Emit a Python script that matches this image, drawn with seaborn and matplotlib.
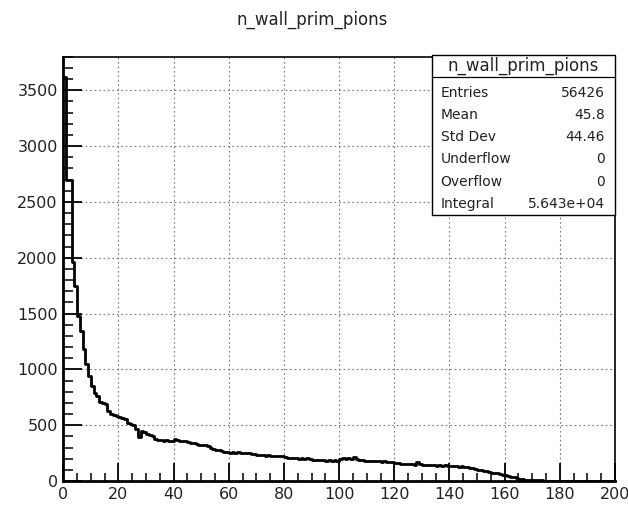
#!/usr/bin/env python
# coding: utf-8

import numpy as np
import pandas as pd
import matplotlib
matplotlib.use("Agg")
import matplotlib.pyplot as plt
import matplotlib.ticker as ticker
from matplotlib.patches import Rectangle
import seaborn as sns

# =============================================================================
# DATA — bin contents (200 bins of width 1, 0..200)
# =============================================================================
TITLE = "n_wall_prim_pions"
X_LOW, X_HIGH = 0, 200

counts_0_39 = [3620, 2700, 2700, 1960, 1750, 1480, 1340, 1180, 1045, 940,
               850, 790, 760, 710, 700, 690, 630, 600, 590, 585,
               570, 560, 555, 520, 510, 500, 470, 390, 450, 440,
               420, 415, 405, 380, 370, 365, 360, 365, 355, 360]
counts_40_99 = [372, 368, 360, 362, 355, 348, 340, 338, 330, 325,
                322, 318, 315, 300, 285, 280, 277, 270, 262, 258,
                255, 258, 252, 256, 250, 254, 248, 252, 246, 240,
                236, 232, 230, 228, 232, 224, 222, 226, 220, 224,
                215, 205, 210, 202, 206, 200, 204, 198, 202, 196,
                192, 188, 186, 190, 184, 182, 186, 180, 184, 182]
counts_100_159 = [196, 202, 198, 210, 200, 215, 195, 188, 185, 182,
                  180, 178, 182, 176, 178, 174, 176, 172, 174, 170,
                  160, 158, 156, 152, 150, 148, 152, 146, 172, 150,
                  143, 142, 145, 140, 144, 138, 142, 136, 140, 134,
                  134, 132, 130, 128, 130, 126, 124, 120, 112, 104,
                  98, 96, 92, 86, 80, 76, 72, 70, 64, 58]
counts_160_199 = [54, 48, 40, 34, 28, 22, 16, 12, 10, 8,
                  7, 6, 5, 5, 4, 4, 3, 3, 2, 2,
                  1, 1, 1, 0, 0, 0, 0, 0, 0, 0,
                  0, 0, 0, 0, 0, 0, 0, 0, 0, 0]

STAT_NAMES  = ["Entries", "Mean", "Std Dev", "Underflow", "Overflow", "Integral"]
STAT_VALUES = ["56426", "45.8", "44.46", "0", "0", "5.643e+04"]

counts = counts_0_39 + counts_40_99 + counts_100_159 + counts_160_199
centers = np.arange(X_LOW, X_HIGH) + 0.5
df = pd.DataFrame({"x": centers, "n": counts})

# =============================================================================
# PLOT
# =============================================================================
sns.set_theme(style="white")
plt.rcParams["font.family"] = ["DejaVu Sans"]

W, H = 628, 505
fig = plt.figure(figsize=(W / 100, H / 100), dpi=100)
fig.patch.set_facecolor("white")
ax = fig.add_axes([63.3 / W, 1 - 481 / H, (615 - 63.3) / W, (481 - 56.7) / H])

sns.histplot(data=df, x="x", weights="n", binwidth=1, binrange=(X_LOW, X_HIGH),
             element="step", fill=False, color="black", linewidth=2.0, ax=ax)

ax.set_xlim(X_LOW, X_HIGH)
ax.set_ylim(0, 3800)
ax.set_xlabel("")
ax.set_ylabel("")

ax.xaxis.set_major_locator(ticker.MultipleLocator(20))
ax.xaxis.set_minor_locator(ticker.MultipleLocator(5))
ax.yaxis.set_major_locator(ticker.MultipleLocator(500))
ax.yaxis.set_minor_locator(ticker.MultipleLocator(100))
ax.tick_params(which="both", bottom=True, left=True, top=False, right=False)
ax.tick_params(which="major", direction="in", length=13, width=1.3,
               labelsize=11.5, labelcolor="#222", pad=4, color="black")
ax.tick_params(which="minor", direction="in", length=6, width=1.1, color="black")
ax.tick_params(axis="y", which="major", length=14)
ax.tick_params(axis="y", which="minor", length=7)

ax.grid(True, which="major", color="#777", linestyle=(0, (1.5, 2.5)), linewidth=0.8)
ax.set_axisbelow(True)
for s in ax.spines.values():
    s.set_visible(True)
    s.set_color("black")
    s.set_linewidth(1.2)
ax.spines["left"].set_linewidth(2.0)
ax.spines["bottom"].set_linewidth(2.0)

fig.text(312 / W, 1 - 20 / H, TITLE, ha="center", va="center", fontsize=12, color="#222")

# stats box
bx0, bx1, by0, by1 = 431.7, 615, 55, 215
fig.add_artist(Rectangle((bx0 / W, 1 - by1 / H), (bx1 - bx0) / W, (by1 - by0) / H,
                         transform=fig.transFigure, facecolor="white",
                         edgecolor="black", linewidth=1.0, zorder=5))
fig.add_artist(plt.Line2D([bx0 / W, bx1 / W], [1 - 77 / H, 1 - 77 / H],
                          transform=fig.transFigure, color="black", linewidth=0.9, zorder=6))
fig.text((bx0 + bx1) / 2 / W, 1 - 66 / H, TITLE, ha="center", va="center",
         fontsize=12, color="#222", zorder=7)
row_y = [93.3, 115, 137, 159, 181.7, 204]
for name, val, yy in zip(STAT_NAMES, STAT_VALUES, row_y):
    fig.text(440.7 / W, 1 - yy / H, name, ha="left", va="center", fontsize=10, color="#222", zorder=7)
    fig.text(605 / W, 1 - yy / H, val, ha="right", va="center", fontsize=10, color="#222", zorder=7)

fig.savefig("out.png", dpi=100)
